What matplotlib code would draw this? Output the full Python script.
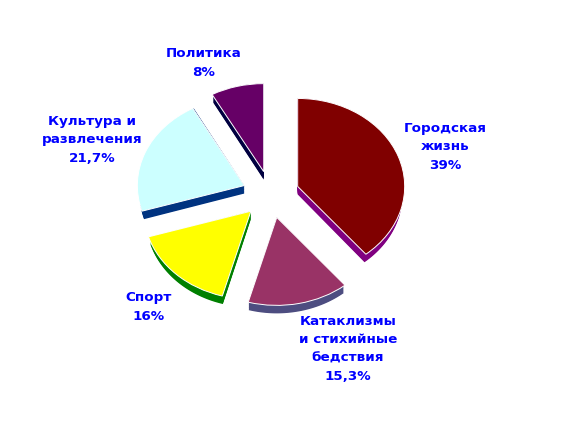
import numpy as np
import matplotlib
matplotlib.use("Agg")
import matplotlib.pyplot as plt
from matplotlib.patches import Wedge, Polygon

# ==========================================
# Data
# ==========================================

categories = ["Городская\nжизнь", "Катаклизмы\nи стихийные\nбедствия", "Спорт",
              "Культура и\nразвлечения", "Политика"]
value_labels = ["39%", "15,3%", "16%", "21,7%", "8%"]
values = [39, 15.3, 16, 21.7, 8]
top_colors = ["#800000", "#993366", "#FFFF00", "#CCFFFF", "#660066"]
side_colors = ["#800080", "#4D4D80", "#008000", "#003380", "#000040"]

# ==========================================
# Settings
# ==========================================

WIDTH, HEIGHT = 567, 431
CENTER_X, CENTER_Y = 270.8, 195.4
RADIUS_X, RADIUS_Y = 107, 88
EXPLODE = 0.267
DEPTH = 8 / RADIUS_Y
WALL_SHRINK = 0.98
TEXT_BLUE = "#0000FF"
LABEL_POS = [(445, 147), (348, 349), (149, 307), (92, 140), (204, 63)]

fig = plt.figure(figsize=(WIDTH / 100, HEIGHT / 100), dpi=100)
ax = fig.add_axes([0, 0, 1, 1])
ax.set_xlim(-CENTER_X / RADIUS_X, (WIDTH - CENTER_X) / RADIUS_X)
ax.set_ylim((CENTER_Y - HEIGHT) / RADIUS_Y, CENTER_Y / RADIUS_Y)
ax.axis("off")

# angles run clockwise from 12 o'clock, in percent of the pie
edges = np.concatenate([[0], np.cumsum(values)])

for i in range(len(values)):
    a1 = 90 - edges[i + 1] * 3.6
    a2 = 90 - edges[i] * 3.6
    mid = np.deg2rad((a1 + a2) / 2)
    cx = EXPLODE * np.cos(mid)
    cy = EXPLODE * np.sin(mid)

    # side wall, stacked downwards, a bit narrower so it fades out at the sides
    arc = np.deg2rad(np.linspace(a1, a2, 80))
    for d in np.linspace(DEPTH, 0, 12):
        xs = np.concatenate([[cx], cx + WALL_SHRINK * np.cos(arc)])
        ys = np.concatenate([[cy - d], cy - d + np.sin(arc)])
        ax.add_patch(Polygon(np.column_stack([xs, ys]), fc=side_colors[i], ec="none"))

    ax.add_patch(Wedge((cx, cy), 1, a1, a2, fc=top_colors[i], ec="white", lw=0.7))

for pos, name, val in zip(LABEL_POS, categories, value_labels):
    fig.text(pos[0] / WIDTH, 1 - pos[1] / HEIGHT, name + "\n" + val,
             ha="center", va="center", color=TEXT_BLUE, fontsize=9.7,
             fontweight="bold", family="DejaVu Sans", linespacing=1.55)

fig.savefig("out.png", dpi=100, facecolor="white")
